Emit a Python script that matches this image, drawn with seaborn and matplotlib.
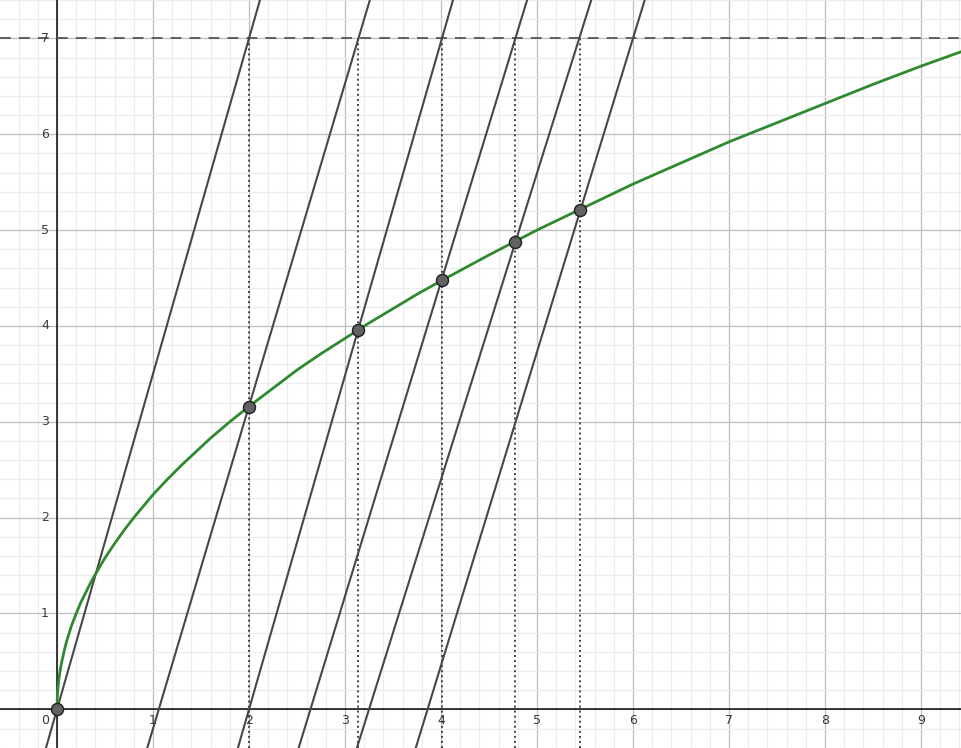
import numpy as np
import pandas as pd
import matplotlib
matplotlib.use("Agg")
import matplotlib.pyplot as plt
import seaborn as sns

# ---- data ----
curve_x = [0.0, 0.002, 0.005, 0.01, 0.02, 0.035, 0.05, 0.075, 0.1, 0.125, 0.15, 0.2, 0.25,
           0.3, 0.35, 0.4, 0.5, 0.6, 0.7, 0.8, 0.9, 1.0, 1.15, 1.3, 1.45, 1.6, 1.8,
           2.0, 2.25, 2.5, 2.75, 3.0, 3.25, 3.5, 3.75, 4.0, 4.5, 5.0, 5.5, 6.0, 6.5,
           7.0, 7.5, 8.0, 8.5, 9.0, 9.5]
curve_y = [0.0, 0.10, 0.16, 0.22, 0.32, 0.42, 0.50, 0.61, 0.71, 0.79, 0.87, 1.00, 1.12,
           1.22, 1.32, 1.41, 1.58, 1.73, 1.87, 2.00, 2.12, 2.24, 2.40, 2.55, 2.69, 2.83, 3.00,
           3.16, 3.35, 3.54, 3.71, 3.87, 4.03, 4.18, 4.33, 4.47, 4.74, 5.00, 5.24, 5.48, 5.70,
           5.92, 6.12, 6.32, 6.52, 6.71, 6.89]

point_x = [0.0, 2.0, 3.135, 4.01, 4.775, 5.45]
point_y = [0.0, 3.155, 3.955, 4.476, 4.88, 5.212]

line_x_at_0 = [0.0, 1.06, 2.0, 2.64, 3.25, 3.86]   # where each steep line meets y = 0
line_x_at_7 = [2.0, 3.14, 4.01, 4.775, 5.44, 6.0]  # where each steep line meets y = 7
level = 7

x_ticks = [1, 2, 3, 4, 5, 6, 7, 8, 9]
y_ticks = [1, 2, 3, 4, 5, 6, 7]

# ---- figure ----
sns.set_theme(style="white")
plt.rcParams['font.family'] = ['DejaVu Sans']
fig = plt.figure(figsize=(9.62, 7.48), dpi=100)
ax = fig.add_axes([0, 0, 1, 1])

x0, x1 = -57 / 96, (962 - 57) / 96
y0, y1 = -(748 - 709.3) / 96, 709.3 / 96
ax.set_xlim(x0, x1)
ax.set_ylim(y0, y1)

# grid
ax.set_xticks(np.arange(-0.4, 9.6, 0.2), minor=True)
ax.set_yticks(np.arange(-0.4, 7.6, 0.2), minor=True)
ax.set_xticks(range(0, 10))
ax.set_yticks(range(0, 8))
ax.grid(which='minor', color='#ececec', linewidth=0.8, zorder=0)
ax.grid(which='major', color='#bdbdbd', linewidth=0.9, zorder=0)
ax.set_axisbelow(True)
ax.tick_params(which='both', length=0, labelbottom=False, labelleft=False)
for s in ax.spines.values():
    s.set_visible(False)

# axes
ax.axhline(0, color='#1a1a1a', linewidth=1.2, zorder=2)
ax.axvline(0, color='#1a1a1a', linewidth=1.2, zorder=2)

# horizontal dashed level
ax.axhline(level, color='#555555', linewidth=1.3, linestyle=(0, (6, 4.5)), zorder=3)

# steep lines
for a, b in zip(line_x_at_0, line_x_at_7):
    ax.axline((a, 0), (b, level), color='#474747', linewidth=1.5, zorder=4)

# dotted verticals
for xv in point_x[1:]:
    ax.plot([xv, xv], [y0, level], color='#444444', linewidth=1.4,
            linestyle=(0, (1, 1.6)), zorder=3)

# curve
df_curve = pd.DataFrame({'x': curve_x, 'y': curve_y})
sns.lineplot(data=df_curve, x='x', y='y', ax=ax, color='#2f8a2f', linewidth=2.0,
             sort=False, estimator=None, zorder=5)

# points
df_pts = pd.DataFrame({'x': point_x, 'y': point_y})
sns.scatterplot(data=df_pts, x='x', y='y', ax=ax, s=75, color='#626262',
                edgecolor='#1e1e1e', linewidth=1.0, zorder=6)

ax.set_xlabel('')
ax.set_ylabel('')

# tick labels
lab_color = '#3a3a3a'
for t in x_ticks:
    ax.annotate(str(t), (t, 0), xytext=(0, -11.5), textcoords='offset pixels',
                ha='center', va='center', fontsize=9, color=lab_color, zorder=7)
for t in y_ticks:
    ax.annotate(str(t), (0, t), xytext=(-8, 0), textcoords='offset pixels',
                ha='right', va='center', fontsize=9, color=lab_color, zorder=7)
ax.annotate('0', (0, 0), xytext=(-8, -11.5), textcoords='offset pixels',
            ha='right', va='center', fontsize=9, color=lab_color, zorder=7)

fig.savefig('out.png', dpi=100)
